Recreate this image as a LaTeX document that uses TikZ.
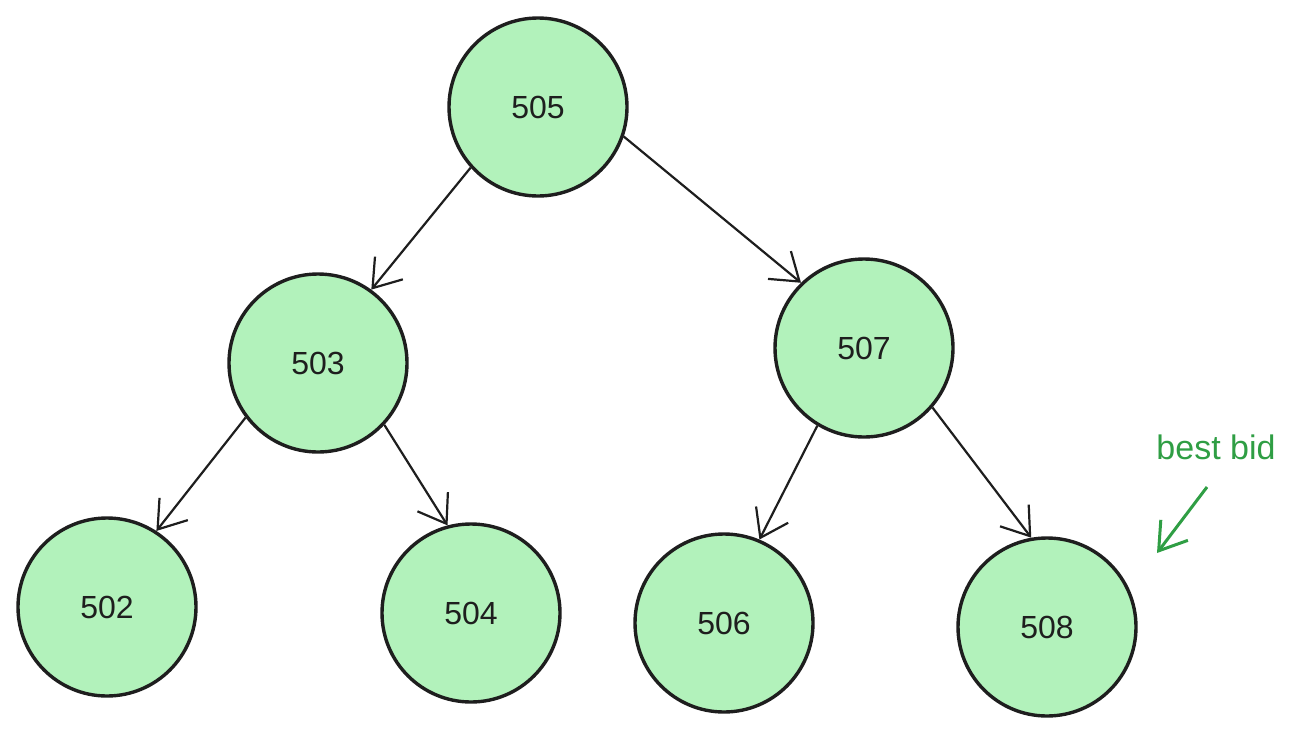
\documentclass[tikz,border=0pt]{standalone}
\usepackage{fontspec}
\setmainfont{Liberation Sans}
\usetikzlibrary{arrows.meta}
\definecolor{nodefill}{HTML}{B2F2BB}
\definecolor{notegreen}{HTML}{2F9E44}
\definecolor{ink}{HTML}{1E1E1E}
\begin{document}
\begin{tikzpicture}[x=1pt,y=-1pt,
  heapnode/.style={circle, draw=ink, line width=3.4pt, fill=nodefill, minimum size=178pt, inner sep=0pt, font=\fontsize{32}{36}\selectfont, text=ink},
  edge/.style={draw=ink, line width=2.2pt, -{Straight Barb[length=26pt,width=36pt,line width=2.2pt]}},
  noteedge/.style={draw=notegreen, line width=3pt, -{Straight Barb[length=26pt,width=34pt,line width=3pt]}}
]
\useasboundingbox (0,0) rectangle (1300,734);
\node[heapnode] (n505) at (538,107) {505};
\node[heapnode] (n503) at (318,363) {503};
\node[heapnode] (n507) at (864,348) {507};
\node[heapnode] (n502) at (107,607) {502};
\node[heapnode] (n504) at (471,613) {504};
\node[heapnode] (n506) at (724,623) {506};
\node[heapnode] (n508) at (1047,627) {508};

\draw[edge] (n505.222) -- (n503.54);
\draw[edge] (n505.-19) -- (n507.134);
\draw[edge] (n503.-143) -- (n502.57);
\draw[edge] (n503.-43) -- (n504.105);
\draw[edge] (n507.-121) -- (n506.67);
\draw[edge] (n507.-41) -- (n508.100);

\node[text=notegreen, font=\fontsize{34}{38}\selectfont, anchor=center] (note) at (1216,447) {best bid};
\coordinate (arrs) at (1207,487);
\coordinate (arre) at (1157,553);
\draw[noteedge] (arrs) -- (arre);
\end{tikzpicture}
\end{document}
